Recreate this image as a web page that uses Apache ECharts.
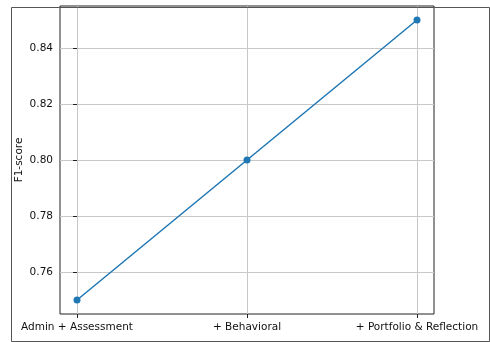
<!DOCTYPE html>
<html><head><meta charset="utf-8">
<script src="https://cdn.jsdelivr.net/npm/echarts@6/dist/echarts.min.js"></script>
<style>html,body{margin:0;padding:0;background:#fff}#c{width:490px;height:342px}</style>
</head><body><div id="c"></div>
<script>
const categories = ["Admin + Assessment", "+ Behavioral", "+ Portfolio & Reflection"];
const f1Scores = [0.75, 0.80, 0.85];
const yTicks = [0.76, 0.78, 0.80, 0.82, 0.84];
const yAxisName = "F1-score";

const chart = echarts.init(document.getElementById('c'), null, {renderer: 'canvas'});
const font = 'DejaVu Sans';
chart.setOption({
  animation: false,
  backgroundColor: '#fff',
  graphic: [{
    type: 'rect', left: 9, top: 5, shape: {width: 478, height: 334},
    style: {fill: 'none', stroke: '#555', lineWidth: 1}, z: 100
  }],
  grid: {left: 60, top: 6, right: 56, bottom: 28, show: true, borderColor: '#222', borderWidth: 1},
  xAxis: {
    type: 'value', min: -0.1, max: 2.1,
    axisLine: {show: false},
    axisTick: {show: true, length: 4, customValues: [0, 1, 2], lineStyle: {color: '#222'}},
    axisLabel: {customValues: [0, 1, 2], formatter: v => categories[Math.round(v)],
      fontFamily: font, fontSize: 10.5, color: '#111', margin: 8},
    splitLine: {show: true, lineStyle: {color: '#c8c8c8', width: 1}}
  },
  yAxis: {
    type: 'value', min: 0.745, max: 0.855,
    name: yAxisName, nameLocation: 'middle', nameGap: 41, nameRotate: 90,
    nameMoveOverlap: false,
    nameTextStyle: {fontFamily: font, fontSize: 10.5, color: '#111', verticalAlign: 'middle'},
    axisLine: {show: false},
    axisTick: {show: true, length: 4, customValues: yTicks, lineStyle: {color: '#222'}},
    axisLabel: {customValues: yTicks, formatter: v => v.toFixed(2),
      fontFamily: font, fontSize: 10.5, color: '#111', margin: 7},
    splitLine: {show: true, lineStyle: {color: '#c8c8c8', width: 1}}
  },
  series: [{
    type: 'line',
    data: f1Scores.map((v, i) => [i, v]),
    symbol: 'circle', symbolSize: 7,
    itemStyle: {color: '#1f77b4'},
    lineStyle: {color: '#1f77b4', width: 1.5}
  }]
});
</script></body></html>
